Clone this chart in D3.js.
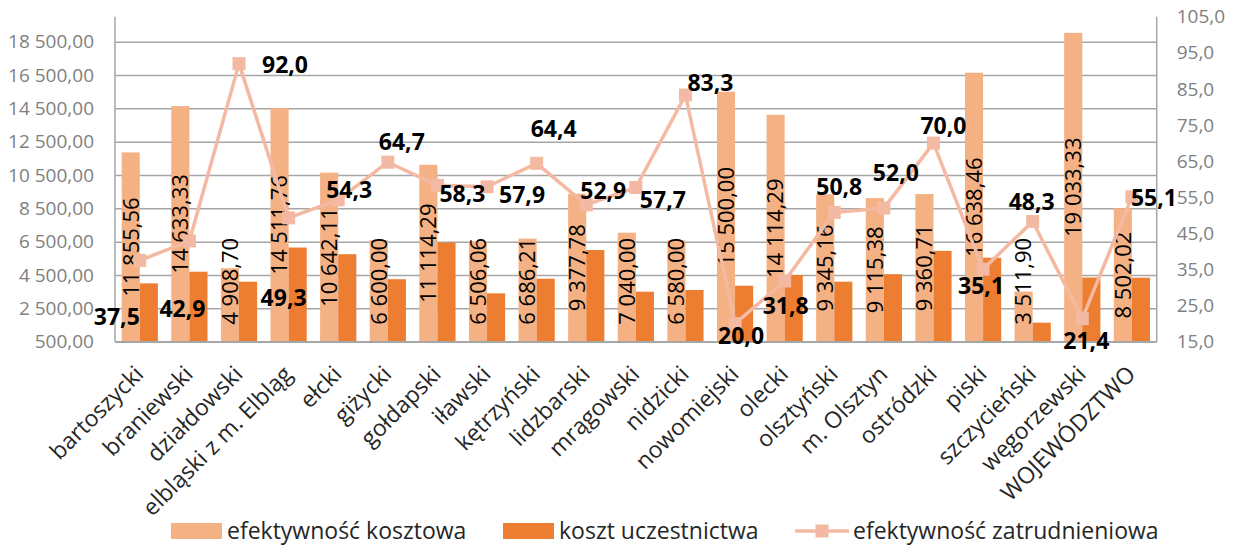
<!DOCTYPE html>
<html>
<head>
<meta charset="utf-8">
<script src="https://cdn.jsdelivr.net/npm/d3@7"></script>
<style>
  html, body { margin: 0; padding: 0; background: #ffffff; }
  svg { display: block; font-family: "Open Sans", sans-serif; }
</style>
</head>
<body>
<svg id="chart" width="1234" height="545"></svg>
<script>
// Powiaty województwa warmińsko-mazurskiego
const categories = [
  "bartoszycki", "braniewski", "działdowski", "elbląski z m. Elbląg", "ełcki",
  "giżycki", "gołdapski", "iławski", "kętrzyński", "lidzbarski", "mrągowski",
  "nidzicki", "nowomiejski", "olecki", "olsztyński", "m. Olsztyn", "ostródzki",
  "piski", "szczycieński", "węgorzewski", "WOJEWÓDZTWO"
];

// efektywność kosztowa (zł)
const costEfficiency = [
  11855.56, 14633.33, 4908.70, 14511.76, 10642.11, 6600.00, 11114.29, 6506.06,
  6686.21, 9377.78, 7040.00, 6580.00, 15500.00, 14114.29, 9345.16, 9115.38,
  9360.71, 16638.46, 3511.90, 19033.33, 8502.02
];

// koszt uczestnictwa (zł)
const participationCost = [
  4000, 4700, 4100, 6150, 5750, 4250, 6450, 3400, 4280, 6000, 3500,
  3600, 3860, 4500, 4100, 4550, 5950, 5540, 1640, 4350, 4340
];

// efektywność zatrudnieniowa (%)
const employmentEfficiency = [
  37.5, 42.9, 92.0, 49.3, 54.3, 64.7, 58.3, 57.9, 64.4, 52.9, 57.7,
  83.3, 20.0, 31.8, 50.8, 52.0, 70.0, 35.1, 48.3, 21.4, 55.1
];

// Axis ticks
const leftTicks = [500, 2500, 4500, 6500, 8500, 10500, 12500, 14500, 16500, 18500];
const rightTicks = [15, 25, 35, 45, 55, 65, 75, 85, 95, 105];

const seriesNames = ["efektywność kosztowa", "koszt uczestnictwa", "efektywność zatrudnieniowa"];

// Placement of the line's value labels relative to each marker
const lineLabelShift = [
  [-23, 56], [-7, 68], [46, 1], [-5, 80], [11, -10], [14, -20], [25, 8],
  [35, 8], [17, -35], [17, -14], [27, 12], [25, -12], [6, 12], [1, 25],
  [5, -26], [12, -35], [10, -17], [-2, 17], [-1, -20], [4, 22], [22, 1]
];

const colors = {
  light: "#F4B183",
  dark: "#ED7D31",
  line: "#F4B9A2",
  grid: "#A6A6A6",
  axisText: "#7F7F7F",
  text: "#262626"
};

const pl = d3.formatLocale({ decimal: ",", thousands: " ", grouping: [3], currency: ["", " zł"] });
const fmtMoney = pl.format(",.2f");
const fmtPct = pl.format(".1f");

const svg = d3.select("#chart");
const plot = { left: 115, right: 1156.7, top: 16.7, bottom: 341.7 };

const x = d3.scaleBand().domain(categories).range([plot.left, plot.right]);
const yL = d3.scaleLinear().domain([500, 20000]).range([plot.bottom, plot.top]);
const yR = d3.scaleLinear().domain([15, 105]).range([plot.bottom, plot.top]);

const bw = x.bandwidth();
const barW = bw * 0.365;
const cx = d => x(d) + bw / 2;

// Gridlines
const gridAxis = d3.axisLeft(yL).tickValues(leftTicks).tickSize(-(plot.right - plot.left)).tickFormat("");
const grid = svg.append("g").attr("transform", `translate(${plot.left},0)`).call(gridAxis);
grid.select(".domain").remove();
grid.selectAll("line").attr("stroke", colors.grid).attr("stroke-width", 1.5);

// Left axis labels
const leftAxis = svg.append("g").attr("transform", `translate(${plot.left},0)`)
  .call(d3.axisLeft(yL).tickValues(leftTicks).tickSize(0).tickPadding(21).tickFormat(fmtMoney));
leftAxis.select(".domain").remove();
leftAxis.selectAll("text").attr("fill", colors.axisText).style("font-size", "19px")
  .style("font-family", "'Open Sans', sans-serif");

// Right axis labels
const rightAxis = svg.append("g").attr("transform", `translate(${plot.right},0)`)
  .call(d3.axisRight(yR).tickValues(rightTicks).tickSize(0).tickPadding(20).tickFormat(fmtPct));
rightAxis.select(".domain").remove();
rightAxis.selectAll("text").attr("fill", colors.axisText).style("font-size", "19px")
  .style("font-family", "'Open Sans', sans-serif");

// Bars
const barsG = svg.append("g");
barsG.selectAll("rect.light").data(categories).join("rect")
  .attr("class", "light")
  .attr("x", d => cx(d) - barW)
  .attr("width", barW)
  .attr("y", (d, i) => yL(costEfficiency[i]))
  .attr("height", (d, i) => yL(500) - yL(costEfficiency[i]))
  .attr("fill", colors.light);
barsG.selectAll("rect.dark").data(categories).join("rect")
  .attr("class", "dark")
  .attr("x", d => cx(d))
  .attr("width", barW)
  .attr("y", (d, i) => yL(participationCost[i]))
  .attr("height", (d, i) => yL(500) - yL(participationCost[i]))
  .attr("fill", colors.dark);

// Axis lines
svg.append("line").attr("x1", plot.left).attr("x2", plot.left).attr("y1", plot.top).attr("y2", plot.bottom)
  .attr("stroke", colors.grid).attr("stroke-width", 1.5);
svg.append("line").attr("x1", plot.right).attr("x2", plot.right).attr("y1", plot.top).attr("y2", plot.bottom)
  .attr("stroke", colors.grid).attr("stroke-width", 1.5);
svg.append("line").attr("x1", plot.left).attr("x2", plot.right).attr("y1", plot.bottom).attr("y2", plot.bottom)
  .attr("stroke", colors.grid).attr("stroke-width", 1.5);

// Bar value labels, rotated, centred on the light bars
const barLabelSize = 22;
const barLabels = svg.append("g").selectAll("text").data(categories).join("text")
  .attr("text-anchor", "middle")
  .attr("y", barLabelSize * 0.357)
  .attr("fill", "#000")
  .style("font-size", barLabelSize + "px")
  .text((d, i) => fmtMoney(costEfficiency[i]));
barLabels.each(function (d, i) {
  const len = this.getComputedTextLength();
  const top = yL(costEfficiency[i]);
  let cy = (top + plot.bottom) / 2;
  const maxBottom = plot.bottom - 17;
  if (cy + len / 2 > maxBottom) cy = maxBottom - len / 2;
  d3.select(this).attr("transform", `translate(${cx(d) - barW / 2},${cy}) rotate(-90)`);
});

// Line series
const line = d3.line().x(d => cx(d)).y((d, i) => yR(employmentEfficiency[i]));
svg.append("path").datum(categories)
  .attr("d", line)
  .attr("fill", "none")
  .attr("stroke", colors.line)
  .attr("stroke-width", 3.5)
  .attr("stroke-linejoin", "round");
const mk = 13;
svg.append("g").selectAll("rect").data(categories).join("rect")
  .attr("x", d => cx(d) - mk / 2)
  .attr("y", (d, i) => yR(employmentEfficiency[i]) - mk / 2)
  .attr("width", mk).attr("height", mk)
  .attr("fill", colors.line);

// Line value labels
const lineLabelSize = 23;
svg.append("g").selectAll("text").data(categories).join("text")
  .attr("text-anchor", "middle")
  .attr("x", (d, i) => cx(d) + lineLabelShift[i][0])
  .attr("y", (d, i) => yR(employmentEfficiency[i]) + lineLabelShift[i][1] + lineLabelSize * 0.357)
  .attr("fill", "#000")
  .style("font-size", lineLabelSize + "px")
  .style("font-weight", "bold")
  .text((d, i) => fmtPct(employmentEfficiency[i]));

// Category labels
svg.append("g").selectAll("text").data(categories).join("text")
  .attr("text-anchor", "end")
  .attr("transform", d => `translate(${cx(d) + 5},${plot.bottom + 34}) rotate(-45)`)
  .attr("fill", colors.text)
  .style("font-size", "23px")
  .text(d => d);

// Legend
const legendY = 531;
const legend = svg.append("g");
legend.append("rect").attr("x", 171).attr("y", legendY - 8).attr("width", 51).attr("height", 16).attr("fill", colors.light);
legend.append("text").attr("x", 227).attr("y", legendY + 8).attr("fill", colors.text).style("font-size", "23px").text(seriesNames[0]);
legend.append("rect").attr("x", 503).attr("y", legendY - 8).attr("width", 51).attr("height", 16).attr("fill", colors.dark);
legend.append("text").attr("x", 559).attr("y", legendY + 8).attr("fill", colors.text).style("font-size", "23px").text(seriesNames[1]);
legend.append("line").attr("x1", 795).attr("x2", 849).attr("y1", legendY).attr("y2", legendY)
  .attr("stroke", colors.line).attr("stroke-width", 3.5);
legend.append("rect").attr("x", 822 - mk / 2).attr("y", legendY - mk / 2).attr("width", mk).attr("height", mk).attr("fill", colors.line);
legend.append("text").attr("x", 853).attr("y", legendY + 8).attr("fill", colors.text).style("font-size", "23px").text(seriesNames[2]);
</script>
</body>
</html>
